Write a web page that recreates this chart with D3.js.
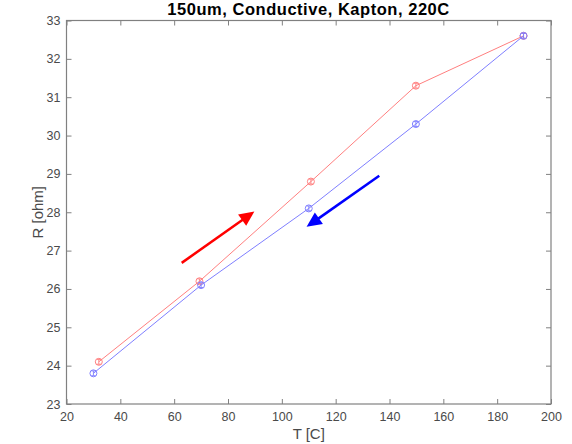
<!DOCTYPE html>
<html><head><meta charset="utf-8">
<script src="https://cdn.jsdelivr.net/npm/d3@7"></script>
<style>
html,body{margin:0;padding:0;background:#fff;}
text{font-family:"Liberation Sans",Arial,Helvetica,sans-serif;}
</style></head>
<body><svg id="c" width="572" height="444"></svg>
<script>
const title = "150um, Conductive, Kapton, 220C";
const xLabel = "T [C]";
const yLabel = "R [ohm]";
const xDomain = [20, 200];
const yDomain = [23, 33];
const xTicks = [20, 40, 60, 80, 100, 120, 140, 160, 180, 200];
const yTicks = [23, 24, 25, 26, 27, 28, 29, 30, 31, 32, 33];
const heatT = [32, 69.4, 110.8, 149.8, 189.8];
const heatR = [24.1, 26.2, 28.8, 31.3, 32.6];
const coolT = [30, 70, 110, 149.8, 189.8];
const coolR = [23.8, 26.1, 28.1, 30.3, 32.6];
// annotation arrows in data units: [x1, y1, x2, y2]
const heatArrow = [62.8, 26.68, 89.8, 28.02];
const coolArrow = [136.2, 28.95, 109.2, 27.62];

const svg = d3.select("#c");
const L = 66.5, R = 551, T = 20.5, B = 404;
const x = d3.scaleLinear().domain(xDomain).range([L, R]);
const y = d3.scaleLinear().domain(yDomain).range([B, T]);
const axisCol = "#808080", textCol = "#4a4a4a";

// axes
function styleAxis(g, hideText) {
  g.select(".domain").remove();
  g.selectAll(".tick line").attr("stroke", axisCol).attr("stroke-width", 1);
  g.selectAll(".tick text").attr("fill", textCol).attr("font-size", "12.5px");
  if (hideText) g.selectAll(".tick text").remove();
}
svg.append("g").attr("transform", `translate(0,${B})`)
  .call(d3.axisBottom(x).tickValues(xTicks).tickSize(-5).tickPadding(8).tickFormat(d3.format("d")))
  .call(g => styleAxis(g, false));
svg.append("g").attr("transform", `translate(0,${T})`)
  .call(d3.axisTop(x).tickValues(xTicks).tickSize(-5))
  .call(g => styleAxis(g, true));
svg.append("g").attr("transform", `translate(${L},0)`)
  .call(d3.axisLeft(y).tickValues(yTicks).tickSize(-5).tickPadding(6).tickFormat(d3.format("d")))
  .call(g => styleAxis(g, false));
svg.append("g").attr("transform", `translate(${R},0)`)
  .call(d3.axisRight(y).tickValues(yTicks).tickSize(-5))
  .call(g => styleAxis(g, true));
svg.append("rect").attr("x", L).attr("y", T).attr("width", R - L).attr("height", B - T)
  .attr("fill", "none").attr("stroke", axisCol).attr("stroke-width", 1.2);

// series
function series(ts, rs, col) {
  const pts = ts.map((t, i) => [t, rs[i]]);
  svg.append("path").datum(pts)
    .attr("d", d3.line().x(d => x(d[0])).y(d => y(d[1])))
    .attr("fill", "none").attr("stroke", col).attr("stroke-width", 1);
  const g = svg.append("g").selectAll("g").data(pts).join("g")
    .attr("transform", d => `translate(${x(d[0])},${y(d[1])})`);
  g.append("circle").attr("r", 3.5).attr("fill", "none").attr("stroke", col).attr("stroke-width", 1);
  g.append("path").attr("d", "M-2.2,-2.4H2.2M-2.2,2.4H2.2M0,-2.4V2.4")
    .attr("fill", "none").attr("stroke", col).attr("stroke-width", 0.9);
}
series(heatT, heatR, "#ff7f7f");
series(coolT, coolR, "#7f7fff");

// arrows
function arrow(a, col) {
  const x1 = x(a[0]), y1 = y(a[1]), x2 = x(a[2]), y2 = y(a[3]);
  const ang = Math.atan2(y2 - y1, x2 - x1);
  const hl = 15, hw = 7;
  const bx = x2 - hl * Math.cos(ang), by = y2 - hl * Math.sin(ang);
  svg.append("line").attr("x1", x1).attr("y1", y1).attr("x2", bx + 2 * Math.cos(ang)).attr("y2", by + 2 * Math.sin(ang))
    .attr("stroke", col).attr("stroke-width", 2.5);
  const px = -Math.sin(ang), py = Math.cos(ang);
  svg.append("path")
    .attr("d", `M${x2},${y2}L${bx + hw * px},${by + hw * py}L${bx - hw * px},${by - hw * py}Z`)
    .attr("fill", col);
}
arrow(heatArrow, "#ff0000");
arrow(coolArrow, "#0000ff");

// labels
svg.append("text").attr("x", (L + R) / 2 - 0.5).attr("y", 15).attr("text-anchor", "middle")
  .attr("font-size", "16.5px").attr("font-weight", "bold").attr("fill", "#000")
  .attr("textLength", 282).attr("lengthAdjust", "spacing").text(title);
svg.append("text").attr("x", (L + R) / 2).attr("y", 439).attr("text-anchor", "middle")
  .attr("font-size", "15px").attr("fill", textCol).text(xLabel);
svg.append("text").attr("transform", `translate(43,${(T + B) / 2}) rotate(-90)`).attr("text-anchor", "middle")
  .attr("font-size", "15px").attr("fill", textCol).text(yLabel);
</script></body></html>
